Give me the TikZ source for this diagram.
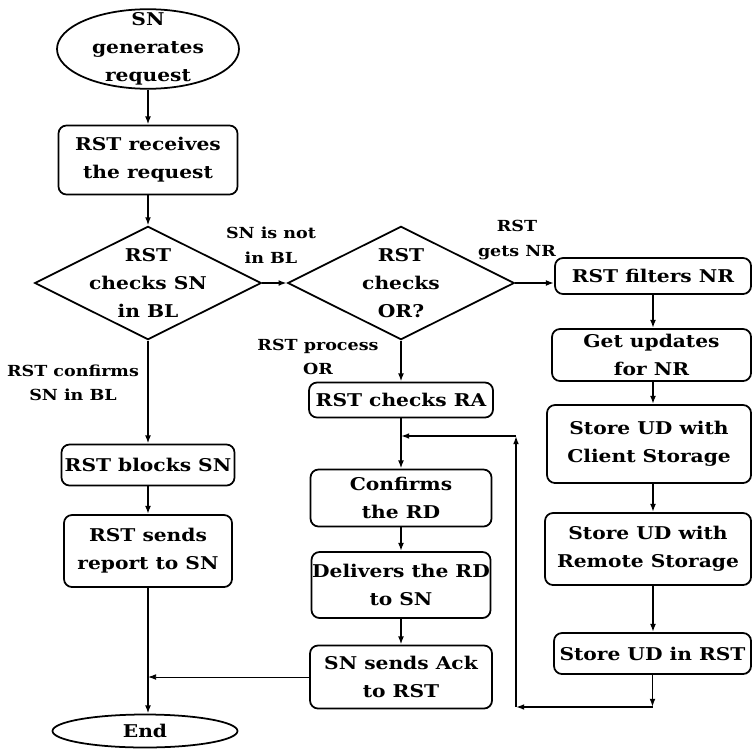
\documentclass[tikz,border=0pt]{standalone}
\usepackage{fontspec}
\setmainfont{DejaVu Serif}[FakeStretch=1.15]
\usetikzlibrary{shapes.geometric,arrows.meta}
\tikzstyle{every node}=[font=\bfseries\fontsize{15}{24}\selectfont, align=center]
\tikzstyle{box}=[draw, rounded corners=2.4mm, inner sep=0pt]
\tikzstyle{test}=[draw, diamond, aspect=2, inner sep=-2.5mm, minimum width=68mm, minimum height=34mm]
\tikzstyle{term}=[draw, ellipse, inner xsep=0pt, inner ysep=-2.5mm]
\tikzstyle{note}=[font=\bfseries\fontsize{13}{21}\selectfont]

\begin{document}
\begin{tikzpicture}[x=0.3mm, y=-0.3mm, line width=1.5pt, >={Latex[length=7pt,width=5pt]}]
    \useasboundingbox (0,0) rectangle (753,750);
% Left column
    \node[term, minimum width=54.6mm, minimum height=23.4mm] (start) at (148,49) {SN\\generates\\request};
    \node[box, minimum width=53.7mm, minimum height=20.7mm] (receives) at (148,160) {RST receives\\the request};
    \node[test] (inbl) at (148,283) {RST\\checks SN\\in BL};
    \node[box, minimum width=51.9mm, minimum height=12.3mm] (blocks) at (148,465) {RST blocks SN};
    \node[box, minimum width=50.4mm, minimum height=21.6mm] (report) at (148,551) {RST sends\\report to SN};
    \node[term, minimum width=55.5mm, minimum height=9.9mm] (end) at (145,731) {End};
% Middle column
    \node[test] (inor) at (401,283) {RST\\checks\\OR?};
    \node[box, minimum width=55.2mm, minimum height=10.5mm] (checkra) at (401,400) {RST checks RA};
    \node[box, minimum width=54.3mm, minimum height=17.1mm] (confirms) at (401,498) {Confirms\\the RD};
    \node[box, minimum width=53.7mm, minimum height=19.8mm] (delivers) at (401,585) {Delivers the RD\\to SN};
    \node[box, minimum width=54.6mm, minimum height=18.9mm] (ack) at (401,677) {SN sends Ack\\to RST};
% Right column
    \node[box, minimum width=58.8mm, minimum height=10.8mm] (filters) at (653,276) {RST filters NR};
    \node[box, minimum width=59.7mm, minimum height=15.6mm] (updates) at (651.5,355) {Get updates\\for NR};
    \node[box, minimum width=61.2mm, minimum height=23.4mm] (client) at (649,444) {Store UD with\\Client Storage};
    \node[box, minimum width=61.8mm, minimum height=21.6mm] (remote) at (648,549) {Store UD with\\Remote Storage};
    \node[box, minimum width=59.1mm, minimum height=12.3mm] (store) at (652.5,653.5) {Store UD in RST};
% Labels
    \node[note] (notinbl) at (271,245) {SN is not\\in BL};
    \node[note] (confirmsbl) at (73,383) {RST confirms\\SN in BL};
    \node[note] (processor) at (318,357) {RST process\\OR};
    \node[note] (getsnr) at (517,240) {RST\\gets NR};
% Arrows
    \draw[->] (start) -- (receives);
    \draw[->] (receives) -- (inbl);
    \draw[->] (inbl) -- (blocks);
    \draw[->] (blocks) -- (report);
    \draw[->] (report.south) -- (report.south |- end.north);
    \draw[->] (inbl) -- (inor);
    \draw[->] (inor) -- (checkra);
    \draw[->] (checkra) -- (confirms);
    \draw[->] (confirms) -- (delivers);
    \draw[->] (delivers) -- (ack);
    \draw[->, line width=0.8pt] (ack.west) -- (ack.west -| report.south);
    \draw[->] (inor.east) -- (inor.east -| filters.west);
    \draw[->] (filters.south) -- (filters.south |- updates.north);
    \draw[->] (filters.south |- updates.south) -- (filters.south |- client.north);
    \draw[->] (filters.south |- client.south) -- (filters.south |- remote.north);
    \draw[->] (filters.south |- remote.south) -- (filters.south |- store.north);
% Loop back
    \coordinate (loopa) at (516,707);
    \coordinate (loopb) at (516,436);
    \draw[->] (store.south) -- (store.south |- loopa);
    \draw[->] (store.south |- loopa) -- (loopa);
    \draw[->] (loopa) -- (loopb);
    \draw[->] (loopb) -- (loopb -| checkra);
\end{tikzpicture}
\end{document}
